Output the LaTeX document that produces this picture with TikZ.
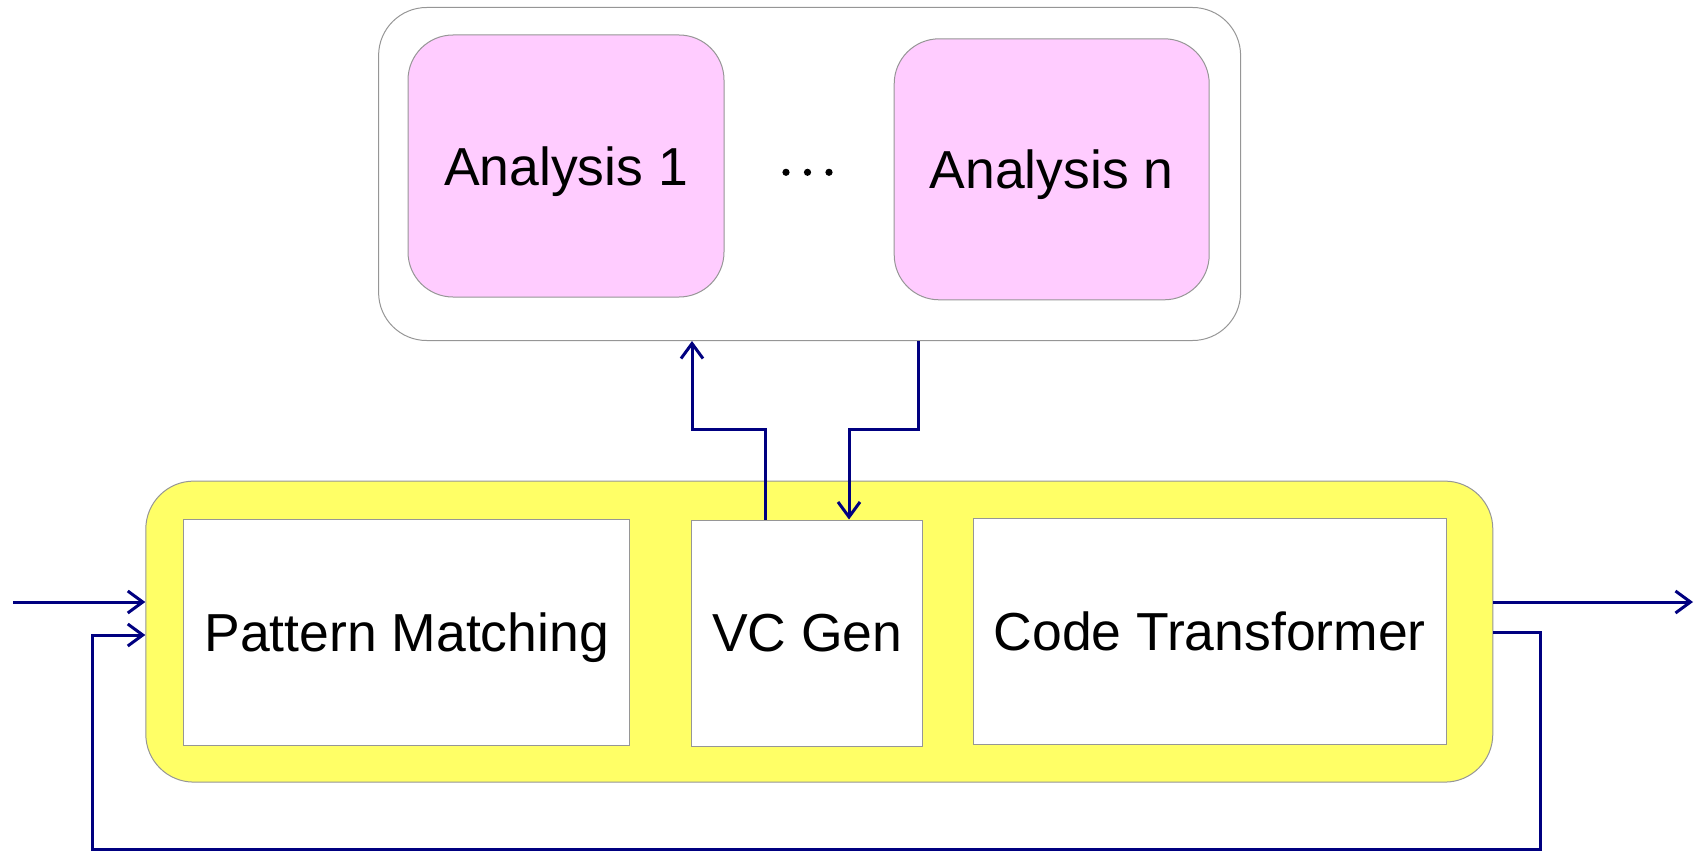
\documentclass[tikz,border=0pt]{standalone}
\usepackage{fontspec}
\setmainfont{Liberation Sans}
\usetikzlibrary{arrows.meta}

\definecolor{wire}{RGB}{0,0,128}
\definecolor{edge}{RGB}{150,150,150}
\definecolor{pinkfill}{RGB}{255,204,255}
\definecolor{yellowfill}{RGB}{255,255,102}

\tikzset{
  box/.style={draw=edge, line width=1pt, rectangle, inner sep=0pt, text depth=0pt,
    font=\fontsize{53.5}{60}\selectfont},
  wire/.style={draw=wire, line width=3pt},
  tip/.style={-{Straight Barb[length=15pt,width=22pt]}}
}

\begin{document}
\begin{tikzpicture}[x=1pt,y=-1pt]
    \useasboundingbox (0,0) rectangle (1696,851);

    % analyses on top
    \node[box, rounded corners=48pt, minimum width=862pt, minimum height=333pt] (pool) at (809.6,174) {};
    \node[box, fill=pinkfill, rounded corners=45pt, minimum width=316pt, minimum height=262pt] (an1) at (566,166) {Analysis 1};
    \node[box, fill=pinkfill, rounded corners=45pt, minimum width=315pt, minimum height=261pt] (ann) at (1051.7,169.3) {Analysis n};
    \foreach \x in {786,807.5,829}
      \fill (\x,172.3) circle (3.6);

    % engine
    \node[box, fill=yellowfill, rounded corners=48pt, minimum width=1347pt, minimum height=301pt] (engine) at (819.3,631.6) {};
    \node[box, fill=white, minimum width=446pt, minimum height=226pt] (pm) at (406.7,632) {Pattern Matching};
    \node[box, fill=white, minimum width=231pt, minimum height=226pt] (vc) at (807.3,633) {VC Gen};
    \node[box, fill=white, minimum width=473pt, minimum height=226pt] (ct) at (1209.7,631) {Code Transformer};

    \coordinate (in) at (13,602);
    \coordinate (out) at (1693,602);
    \coordinate (fbR) at (1540,849);
    \coordinate (fbL) at (92,849);
    \coordinate (upA) at (765,429);
    \coordinate (upB) at (692,429);
    \coordinate (dnA) at (918,429);
    \coordinate (dnB) at (849,429);

    \draw[wire,tip] (in) -- (in -| engine.west);
    \draw[wire,tip] (engine.east |- out) -- (out);
    \draw[wire,tip] (engine.east |- 0,632) -| (fbR) -- (fbL) |- (engine.west |- 0,635);
    \draw[wire,tip] (upA |- vc.north) -- (upA) -- (upB) -- (upB |- pool.south);
    \draw[wire,tip] (dnA |- pool.south) -- (dnA) -- (dnB) -- (dnB |- vc.north);
\end{tikzpicture}
\end{document}
